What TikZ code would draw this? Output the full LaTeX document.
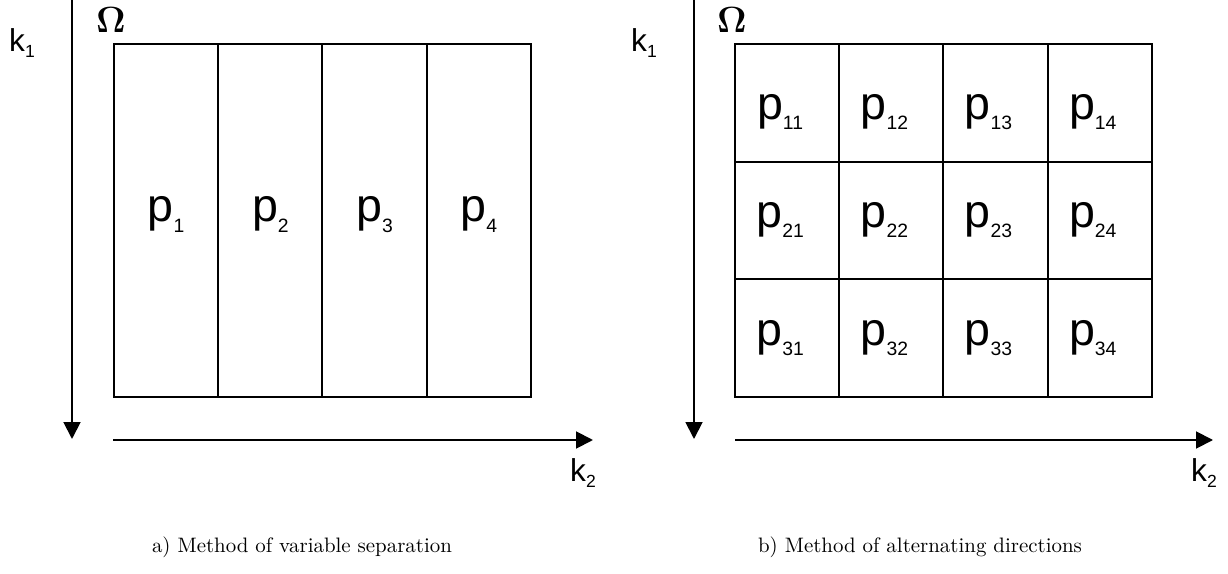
\documentclass[tikz,border=0pt]{standalone}
\usepackage[no-math]{fontspec}
\newfontfamily\arialfont{Liberation Sans}
\usetikzlibrary{positioning,arrows.meta}

\newcommand{\plab}[1]{{\arialfont\fontsize{26.5}{28}\selectfont p\raisebox{-5.7pt}{\fontsize{11}{12}\selectfont #1}}}
\newcommand{\klab}[1]{{\arialfont\fontsize{18}{20}\selectfont k\raisebox{-3pt}{\fontsize{10}{11}\selectfont #1}}}

\begin{document}
\begin{tikzpicture}[x=0.02cm, y=-0.02cm,
        cellA/.style={draw, line width=1.1pt, outer sep=0pt, inner sep=0pt, minimum width=2.085cm, minimum height=7.06cm, text height=11.7pt, text depth=10pt},
        cellB/.style={draw, line width=1.1pt, outer sep=0pt, inner sep=0pt, minimum width=2.085cm, minimum height=2.3533cm, text height=18pt, text depth=9.5pt, execute at end node={\hspace{8pt}}},
        rowone/.style={text height=28pt, text depth=9.3pt},
        axis/.style={-{Triangle[length=9.6pt,width=9.6pt]}, line width=1.1pt},
        capt/.style={font=\fontsize{10}{12}\selectfont, scale=1.19, transform shape},
        domlab/.style={font=\fontsize{21.5}{24}\selectfont}
    ]
        \useasboundingbox (0,0) rectangle (1228,574);

        \node[domlab] (omA) at (111,20) {$\mathbf{\Omega}$};
        \node[cellA] (p1) at (166.1,220.5) {\plab{1}};
        \node[cellA, right=0pt of p1] (p2) {\plab{2}};
        \node[cellA, right=0pt of p2] (p3) {\plab{3}};
        \node[cellA, right=0pt of p3] (p4) {\plab{4}};

        \coordinate (v1s) at (72,0);
        \coordinate (v1e) at (72,439);
        \coordinate (h1s) at (113,440);
        \coordinate (h1e) at (593,440);
        \draw[axis] (v1s) -- (v1e);
        \draw[axis] (h1s) -- (h1e);
        \node (k1A) at (22,43) {\klab{1}};
        \node (k2A) at (583,473) {\klab{2}};
        \node[capt] (capA) at (302,547) {a) Method of variable separation};

        \node[domlab] (omB) at (732,20) {$\mathbf{\Omega}$};
        \node[cellB, rowone] (p11) at (787.1,102.8) {\plab{11}};
        \node[cellB, rowone, right=0pt of p11] (p12) {\plab{12}};
        \node[cellB, rowone, right=0pt of p12] (p13) {\plab{13}};
        \node[cellB, rowone, right=0pt of p13] (p14) {\plab{14}};
        \node[cellB, below=0pt of p11] (p21) {\plab{21}};
        \node[cellB, right=0pt of p21] (p22) {\plab{22}};
        \node[cellB, right=0pt of p22] (p23) {\plab{23}};
        \node[cellB, right=0pt of p23] (p24) {\plab{24}};
        \node[cellB, below=0pt of p21] (p31) {\plab{31}};
        \node[cellB, right=0pt of p31] (p32) {\plab{32}};
        \node[cellB, right=0pt of p32] (p33) {\plab{33}};
        \node[cellB, right=0pt of p33] (p34) {\plab{34}};

        \coordinate (v2s) at (694,0);
        \coordinate (v2e) at (694,439);
        \coordinate (h2s) at (735,440);
        \coordinate (h2e) at (1213,440);
        \draw[axis] (v2s) -- (v2e);
        \draw[axis] (h2s) -- (h2e);
        \node (k1B) at (644,43) {\klab{1}};
        \node (k2B) at (1204,473) {\klab{2}};
        \node[capt] (capB) at (920,547) {b) Method of alternating directions};
    \end{tikzpicture}
\end{document}
